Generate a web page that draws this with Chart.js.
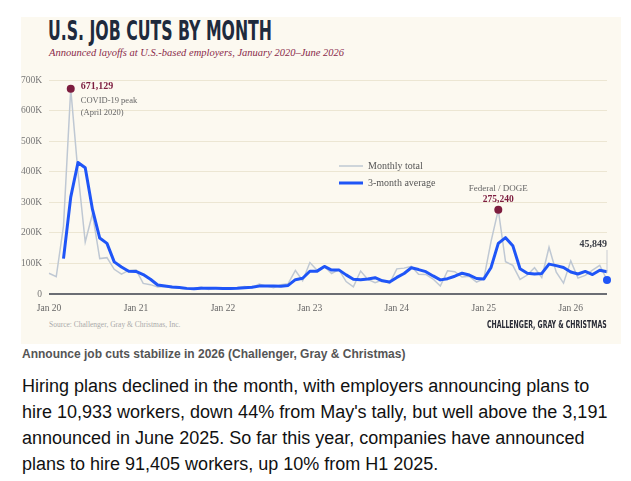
<!DOCTYPE html>
<html>
<head>
<meta charset="utf-8">
<script src="https://cdn.jsdelivr.net/npm/chart.js@4.4.1/dist/chart.umd.min.js"></script>
<style>
  body { margin: 0; width: 631px; height: 481px; position: relative; overflow: hidden; background: #fff; }
  #panel { position: absolute; left: 21px; top: 17px; width: 600px; height: 327px; background: #fcf9f0; overflow: hidden; }
  .cond { font-family: 'DejaVu Sans Condensed', 'DejaVu Sans', sans-serif; font-stretch: condensed; font-weight: bold; white-space: nowrap; position: absolute; }
  #title { left: 27px; top: 0px; font-size: 27px; line-height: 27px; color: #1e2a3d; transform-origin: left top; }
  #subtitle { position: absolute; left: 28px; top: 30px; font: italic 10.5px/12px 'Liberation Serif', serif; color: #8a2a4a; white-space: nowrap; }
  #source { position: absolute; left: 28px; top: 303px; font: 7.5px/9px 'Liberation Serif', serif; color: #aaa; white-space: nowrap; }
  #brand { right: 14px; top: 303px; font-size: 9.6px; line-height: 9.6px; color: #2a2c36; transform-origin: right top; }
  #wrap { position: absolute; left: -21px; top: 43px; width: 621px; height: 260px; }
  #caption { position: absolute; left: 22px; top: 347px; font: bold 12px/14px 'Liberation Sans', Arial, sans-serif; color: #555; white-space: nowrap; }
  #text { position: absolute; left: 22px; top: 373px; font: 18px/26px 'Liberation Sans', Arial, sans-serif; color: #111; white-space: nowrap; }
</style>
</head>
<body>
<div id="panel">
  <div id="title" class="cond">U.S. JOB CUTS BY MONTH</div>
  <div id="subtitle">Announced layoffs at U.S.-based employers, January 2020–June 2026</div>
  <div id="wrap"><canvas id="chart"></canvas></div>
  <div id="source">Source: Challenger, Gray &amp; Christmas, Inc.</div>
  <div id="brand" class="cond">CHALLENGER, GRAY &amp; CHRISTMAS</div>
</div>
<div id="caption">Announce job cuts stabilize in 2026 (Challenger, Gray &amp; Christmas)</div>
<div id="text">Hiring plans declined in the month, with employers announcing plans to<br>hire 10,933 workers, down 44% from May's tally, but well above the 3,191<br>announced in June 2025. So far this year, companies have announced<br>plans to hire 91,405 workers, up 10% from H1 2025.</div>

<script>
// squeeze condensed headings to the reference widths
const title = document.getElementById('title');
title.style.transform = 'scaleX(' + (224 / title.offsetWidth) + ')';
const brand = document.getElementById('brand');
brand.style.transform = 'scaleX(' + (120 / brand.offsetWidth) + ')';

const monthNames = ['Jan','Feb','Mar','Apr','May','Jun','Jul','Aug','Sep','Oct','Nov','Dec'];
const years = ['20','21','22','23','24','25','26'];
const months = [];
years.forEach(y => monthNames.forEach(m => months.push(m + ' ' + y)));
months.length = 78; // Jan 2020 - Jun 2026

// announced layoffs per month
const monthly = [
  67735, 56660, 222288, 671129, 397016, 170219, 262649, 115762, 118804, 80666, 64797, 77030,
  79552, 34531, 30603, 22913, 24586, 20476, 18942, 15723, 17895, 22822, 14875, 19052,
  19064, 15245, 21387, 24286, 20712, 32517, 25810, 20485, 29989, 33843, 76835, 43651,
  102943, 77770, 89703, 66995, 80089, 40709, 23697, 75151, 47457, 36836, 45510, 34817,
  82307, 84638, 90309, 64789, 63816, 48786, 25885, 75891, 72821, 55597, 57727, 38792,
  49795, 172017, 275240, 105441, 93816, 47999, 62075, 85979, 54064, 153074, 71321, 35553,
  108435, 52000, 61000, 78000, 94000, 45849
];

// 3-month average
const avg3 = [
  null, null, 115600, 316700, 430100, 412800, 276600, 182900, 165700, 105100, 88100, 74200,
  73800, 63700, 48200, 29300, 26000, 22700, 21300, 18400, 17500, 18800, 18500, 18900,
  17700, 17800, 18600, 20300, 22100, 25800, 26300, 26300, 25400, 28100, 46900, 51400,
  74500, 74800, 90100, 78200, 78900, 62600, 48200, 46500, 48800, 53200, 43300, 39000,
  54200, 67200, 85700, 79900, 73000, 59100, 46200, 50200, 58200, 68100, 62000, 50700,
  48800, 86900, 165700, 184200, 158100, 82400, 68000, 65400, 67400, 97700, 92800, 86700,
  71800, 65300, 73800, 63700, 77700, 72600
];

const yTicks = [0, 100000, 200000, 300000, 400000, 500000, 600000, 700000];

const MAROON = '#7d1d3f';
const BLUE = '#1f55f7';
const GRAY = '#bfc8d3';
const SERIF = "'Liberation Serif', serif";

const peakIdx = 3;   // April 2020
const dogeIdx = 62;  // March 2025
const lastIdx = monthly.length - 1;

const notes = {
  id: 'notes',
  afterDatasetsDraw(chart) {
    const { ctx, scales: { x, y } } = chart;
    const px = i => x.getPixelForValue(i);
    const py = i => y.getPixelForValue(monthly[i]);
    const fmt = v => v.toLocaleString('en-US');
    ctx.save();

    function dot(i, color) {
      ctx.beginPath();
      ctx.arc(px(i), py(i), 4, 0, Math.PI * 2);
      ctx.fillStyle = color;
      ctx.fill();
    }

    // COVID peak
    dot(peakIdx, MAROON);
    ctx.textBaseline = 'middle';
    ctx.textAlign = 'left';
    ctx.fillStyle = MAROON;
    ctx.font = 'bold 10px ' + SERIF;
    ctx.fillText(fmt(monthly[peakIdx]), px(peakIdx) + 10, py(peakIdx) - 2);
    ctx.fillStyle = '#666';
    ctx.font = '8.5px ' + SERIF;
    ctx.fillText('COVID-19 peak', px(peakIdx) + 10, py(peakIdx) + 12);
    ctx.fillText('(April 2020)', px(peakIdx) + 10, py(peakIdx) + 24);

    // Federal / DOGE
    dot(dogeIdx, MAROON);
    ctx.textAlign = 'center';
    ctx.fillStyle = '#666';
    ctx.font = '9px ' + SERIF;
    ctx.fillText('Federal / DOGE', px(dogeIdx), py(dogeIdx) - 21);
    ctx.fillStyle = MAROON;
    ctx.font = 'bold 9.5px ' + SERIF;
    ctx.fillText(fmt(monthly[dogeIdx]), px(dogeIdx), py(dogeIdx) - 10);

    // latest month
    ctx.strokeStyle = '#c9ccd2';
    ctx.lineWidth = 1;
    ctx.beginPath();
    ctx.moveTo(px(lastIdx), py(lastIdx) - 30);
    ctx.lineTo(px(lastIdx), py(lastIdx) - 7);
    ctx.stroke();
    dot(lastIdx, BLUE);
    ctx.textAlign = 'right';
    ctx.fillStyle = '#3d4048';
    ctx.font = 'bold 10px ' + SERIF;
    ctx.fillText(fmt(monthly[lastIdx]), px(lastIdx), py(lastIdx) - 36);

    // legend
    ctx.lineCap = 'butt';
    ctx.strokeStyle = GRAY;
    ctx.lineWidth = 1.5;
    ctx.beginPath(); ctx.moveTo(339, 106); ctx.lineTo(363, 106); ctx.stroke();
    ctx.strokeStyle = BLUE;
    ctx.lineWidth = 3;
    ctx.beginPath(); ctx.moveTo(339, 123); ctx.lineTo(363, 123); ctx.stroke();
    ctx.textAlign = 'left';
    ctx.fillStyle = '#555';
    ctx.font = '10px ' + SERIF;
    ctx.fillText('Monthly total', 368, 106);
    ctx.fillText('3-month average', 368, 123);
    ctx.restore();
  }
};

const ctx = document.getElementById('chart').getContext('2d');
const myChart = new Chart(ctx, {
  type: 'line',
  data: {
    labels: months,
    datasets: [{
      label: '3-month average',
      data: avg3,
      borderColor: BLUE,
      borderWidth: 3,
      pointRadius: 0,
      tension: 0,
      borderJoinStyle: 'round'
    }, {
      label: 'Monthly total',
      data: monthly,
      borderColor: GRAY,
      borderWidth: 1.5,
      pointRadius: 0,
      tension: 0
    }]
  },
  options: {
    responsive: true,
    maintainAspectRatio: false,
    animation: false,
    layout: { padding: { top: 20, right: 14, left: 0, bottom: 0 } },
    plugins: { legend: { display: false }, tooltip: { enabled: false } },
    scales: {
      x: {
        grid: { display: false, drawTicks: false },
        border: { display: false },
        afterFit: s => { s.height = 26; },
        ticks: {
          autoSkip: false,
          maxRotation: 0,
          padding: 9,
          color: '#666',
          font: { family: SERIF, size: 9.5 },
          callback: function(v) {
            const l = this.getLabelForValue(v);
            return l.startsWith('Jan') ? l : null;
          }
        }
      },
      y: {
        min: 0,
        max: 700000,
        afterFit: s => { s.width = 49; },
        afterBuildTicks: s => { s.ticks = yTicks.map(v => ({ value: v })); },
        border: { display: false },
        grid: {
          drawTicks: false,
          color: c => c.tick.value === 0 ? '#6b6e74' : '#ece6d3',
          lineWidth: c => c.tick.value === 0 ? 2 : 1
        },
        ticks: {
          padding: 7,
          color: '#777',
          font: { family: SERIF, size: 9.5 },
          callback: v => v === 0 ? '0' : (v / 1000) + 'K'
        }
      }
    }
  },
  plugins: [notes]
});
</script>
</body>
</html>
